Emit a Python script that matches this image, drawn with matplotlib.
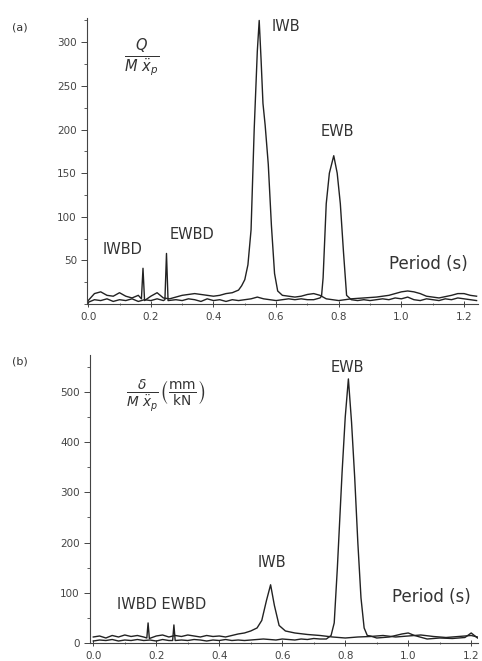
import matplotlib
matplotlib.use("Agg")
import matplotlib.pyplot as plt
from matplotlib.ticker import MultipleLocator

# panel (a): Q / (M x''_p) spectra
period_a1 = [0.00, 0.02, 0.04, 0.06, 0.08, 0.10, 0.12, 0.14, 0.16, 0.170, 0.175, 0.180,
             0.20, 0.22, 0.24, 0.26, 0.28, 0.30, 0.32, 0.34, 0.36, 0.38, 0.40, 0.42,
             0.44, 0.46, 0.48, 0.49, 0.50, 0.51, 0.52, 0.53, 0.54, 0.546, 0.552, 0.558,
             0.565, 0.575, 0.585, 0.595, 0.605, 0.62, 0.64, 0.66, 0.68, 0.70, 0.72, 0.74,
             0.76, 0.78, 0.80, 0.82, 0.84, 0.88, 0.92, 0.96, 1.00, 1.02, 1.04, 1.06,
             1.08, 1.12, 1.16, 1.18, 1.20, 1.22, 1.24]
q_a1 = [4, 12, 14, 10, 9, 13, 9, 7, 10, 6, 41, 4,
        9, 13, 7, 6, 8, 10, 11, 12, 11, 10, 9, 10,
        12, 13, 16, 21, 28, 45, 85, 200, 290, 325, 280, 230,
        205, 160, 90, 35, 15, 10, 9, 8, 9, 11, 12, 10,
        6, 5, 4, 5, 6, 7, 8, 10, 14, 15, 14, 12,
        9, 7, 10, 12, 12, 10, 9]

period_a2 = [0.00, 0.02, 0.04, 0.06, 0.08, 0.10, 0.12, 0.14, 0.16, 0.18, 0.20, 0.22,
             0.24, 0.245, 0.25, 0.255, 0.28, 0.30, 0.32, 0.34, 0.36, 0.38, 0.40, 0.42,
             0.44, 0.46, 0.48, 0.50, 0.52, 0.54, 0.56, 0.58, 0.60, 0.62, 0.64, 0.66,
             0.68, 0.70, 0.72, 0.74, 0.745, 0.75, 0.76, 0.77, 0.784, 0.795, 0.805, 0.815,
             0.825, 0.84, 0.86, 0.88, 0.90, 0.92, 0.94, 0.96, 0.98, 1.00, 1.02, 1.04,
             1.06, 1.08, 1.10, 1.12, 1.14, 1.16, 1.18, 1.20, 1.22, 1.24]
q_a2 = [2, 5, 4, 6, 3, 5, 4, 6, 3, 5, 4, 6,
        4, 5, 58, 4, 5, 4, 6, 5, 3, 6, 4, 5,
        3, 5, 4, 5, 6, 8, 6, 5, 4, 5, 6, 5,
        6, 5, 5, 7, 9, 30, 115, 150, 170, 150, 115, 60,
        10, 5, 4, 5, 4, 5, 6, 5, 7, 6, 8, 5,
        4, 6, 5, 4, 6, 5, 7, 6, 5, 4]

# panel (b): delta / (M x''_p) spectra, mm/kN
period_b1 = [0.00, 0.02, 0.04, 0.06, 0.08, 0.10, 0.12, 0.14, 0.16, 0.170, 0.174, 0.178,
             0.20, 0.22, 0.24, 0.26, 0.28, 0.30, 0.32, 0.34, 0.36, 0.38, 0.40, 0.42,
             0.44, 0.46, 0.48, 0.50, 0.52, 0.535, 0.55, 0.563, 0.575, 0.59, 0.61, 0.64,
             0.68, 0.72, 0.76, 0.80, 0.84, 0.88, 0.92, 0.96, 1.00, 1.04, 1.08, 1.12,
             1.16, 1.20, 1.22]
d_b1 = [12, 14, 10, 15, 12, 16, 13, 15, 12, 10, 40, 9,
        14, 16, 12, 15, 13, 16, 14, 12, 15, 13, 14, 12,
        15, 18, 20, 24, 30, 45, 85, 116, 75, 35, 24, 20,
        17, 15, 12, 10, 12, 13, 15, 12, 14, 16, 13, 11,
        13, 15, 12]

period_b2 = [0.00, 0.02, 0.04, 0.06, 0.08, 0.10, 0.12, 0.14, 0.16, 0.18, 0.20, 0.22,
             0.24, 0.252, 0.256, 0.26, 0.28, 0.30, 0.32, 0.34, 0.36, 0.38, 0.40, 0.42,
             0.44, 0.46, 0.48, 0.50, 0.52, 0.54, 0.56, 0.58, 0.60, 0.62, 0.64, 0.66,
             0.68, 0.70, 0.72, 0.74, 0.755, 0.765, 0.775, 0.79, 0.80, 0.81, 0.82, 0.83,
             0.84, 0.85, 0.86, 0.87, 0.88, 0.90, 0.94, 0.98, 1.00, 1.02, 1.06, 1.10,
             1.14, 1.18, 1.20, 1.22]
d_b2 = [4, 6, 5, 7, 4, 6, 5, 7, 5, 6, 4, 7,
        5, 5, 36, 5, 6, 5, 7, 6, 4, 6, 5, 7,
        5, 6, 5, 6, 7, 8, 7, 6, 8, 7, 6, 8,
        7, 9, 8, 8, 15, 40, 150, 340, 450, 526, 440, 330,
        200, 90, 30, 15, 14, 10, 12, 18, 20, 15, 8, 10,
        9, 11, 20, 10]

fig = plt.figure(figsize=(4.82, 6.61), dpi=100)
plt.rcParams['font.family'] = ['DejaVu Sans']

ax1 = fig.add_axes([0.181, 0.540, 0.811, 0.433])
ax2 = fig.add_axes([0.187, 0.0272, 0.805, 0.436])

lw = 1.0
ax1.plot(period_a1, q_a1, color='#222222', lw=lw)
ax1.plot(period_a2, q_a2, color='#222222', lw=lw)
ax2.plot(period_b1, d_b1, color='#222222', lw=lw)
ax2.plot(period_b2, d_b2, color='#222222', lw=lw)

ax1.set_xlim(-0.003, 1.245)
ax1.set_ylim(0, 328)
ax2.set_xlim(-0.01, 1.222)
ax2.set_ylim(0, 574)

for ax, ymaj in ((ax1, 50), (ax2, 100)):
    ax.spines['top'].set_visible(False)
    ax.spines['right'].set_visible(False)
    ax.spines['left'].set_color('#444444')
    ax.spines['bottom'].set_color('#444444')
    ax.xaxis.set_major_locator(MultipleLocator(0.2))
    ax.xaxis.set_minor_locator(MultipleLocator(0.1))
    ax.yaxis.set_major_locator(MultipleLocator(ymaj))
    ax.yaxis.set_minor_locator(MultipleLocator(ymaj / 2))
    ax.tick_params(axis='y', which='major', direction='out', length=4, width=0.7,
                   labelsize=7.5, colors='#444444')
    ax.tick_params(axis='y', which='minor', direction='out', length=2, width=0.6,
                   colors='#444444')
    ax.tick_params(axis='x', which='major', direction='inout', length=4, width=0.7,
                   labelsize=7.5, colors='#444444')
    ax.tick_params(axis='x', which='minor', direction='inout', length=2, width=0.6,
                   colors='#444444')
    ax.xaxis.set_major_formatter(plt.FuncFormatter(lambda v, p: f"{v:.1f}"))

ax1.set_yticks([50, 100, 150, 200, 250, 300])

tc = '#333333'
fs = 10.5
ax1.text(0.111, 63, 'IWBD', ha='center', va='center', fontsize=fs, color=tc)
ax1.text(0.331, 80, 'EWBD', ha='center', va='center', fontsize=fs, color=tc)
ax1.text(0.63, 318, 'IWB', ha='center', va='center', fontsize=fs, color=tc)
ax1.text(0.796, 198, 'EWB', ha='center', va='center', fontsize=fs, color=tc)
ax1.text(1.086, 46, 'Period (s)', ha='center', va='center', fontsize=12, color=tc)
ax1.text(0.169, 282, r'$\frac{Q}{M\ \ddot{x}_p}$', ha='center', va='center',
         fontsize=15, color=tc)

ax2.text(0.216, 76, 'IWBD EWBD', ha='center', va='center', fontsize=fs, color=tc)
ax2.text(0.568, 161, 'IWB', ha='center', va='center', fontsize=fs, color=tc)
ax2.text(0.806, 548, 'EWB', ha='center', va='center', fontsize=fs, color=tc)
ax2.text(1.073, 92, 'Period (s)', ha='center', va='center', fontsize=12, color=tc)
ax2.text(0.229, 492, r'$\frac{\delta}{M\ \ddot{x}_p}\left(\frac{\mathrm{mm}}{\mathrm{kN}}\right)$',
         ha='center', va='center', fontsize=14, color=tc)

fig.text(20 / 482, 1 - 27 / 661, '(a)', ha='center', va='center', fontsize=8, color=tc)
fig.text(20 / 482, 1 - 362 / 661, '(b)', ha='center', va='center', fontsize=8, color=tc)

fig.savefig('out.png', dpi=100)
